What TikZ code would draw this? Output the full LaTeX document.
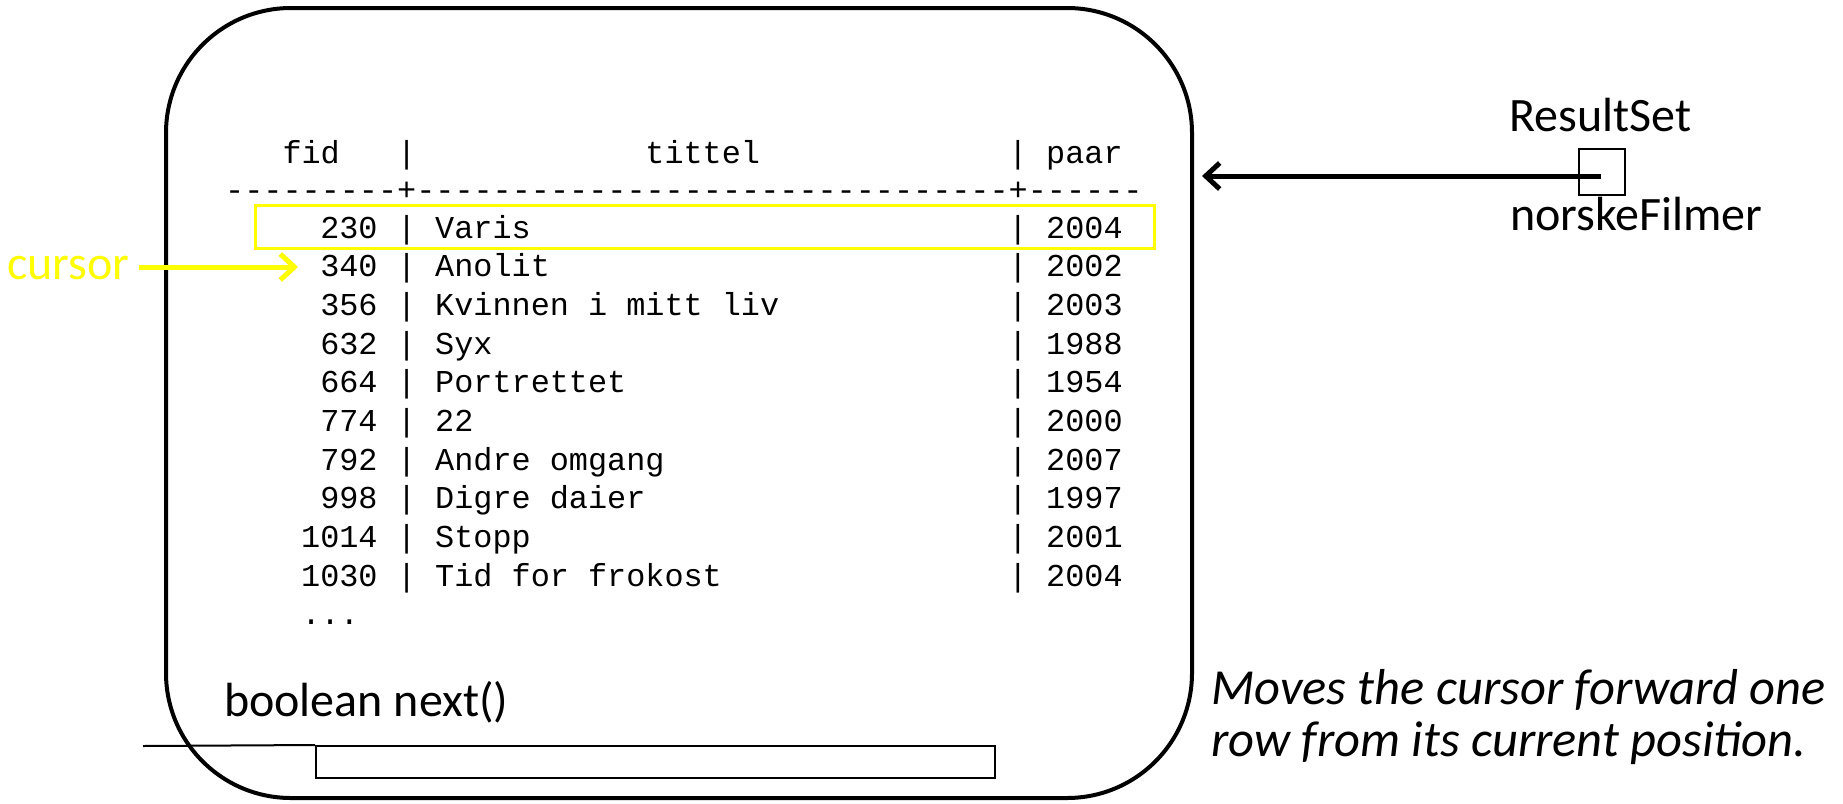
\documentclass[tikz,border=0pt]{standalone}
\usepackage{fontspec}
\setmainfont{Carlito}
\setmonofont{Liberation Mono}
\usetikzlibrary{arrows.meta}
\definecolor{hiyellow}{RGB}{255,255,0}
\begin{document}
\begin{tikzpicture}[x=1pt,y=-1pt,
  cal/.style={font=\fontsize{48pt}{56pt}\selectfont, inner sep=0pt, anchor=base west},
  ital/.style={font=\fontsize{50.5pt}{56pt}\selectfont\itshape, inner sep=0pt, anchor=base west},
  mono/.style={font=\fontsize{31.85pt}{38pt}\selectfont\ttfamily, inner sep=0pt},
  thin/.style={draw, line width=2pt, inner sep=0pt},
  barb/.style={-{Straight Barb[length=14pt,width=26pt]}, line width=5pt}]
\useasboundingbox (0,0) rectangle (1843,803);
% outer object
\node[draw, line width=4pt, rounded corners=125pt, minimum width=1026pt,
      minimum height=790pt, inner sep=0pt] (box) at (679,403) {};
% header
\node[mono, anchor=base west] (hfid) at (282.3,163) {fid};
\node[mono, anchor=base west] (hbara) at (396.9,163) {|};
\node[mono, anchor=base west] (htit) at (645.2,163) {tittel};
\node[mono, anchor=base west] (hbarb) at (1008.1,163) {|};
\node[mono, anchor=base west] (hpaar) at (1046,163) {paar};
\node[mono, anchor=base west] (sep) at (225,200) {---------+-------------------------------+------};
% rows
\foreach \r/\f/\t/\yr in {0/230/Varis/2004, 1/340/Anolit/2002,
   2/356/Kvinnen i mitt liv/2003, 3/632/Syx/1988, 4/664/Portrettet/1954,
   5/774/22/2000, 6/792/Andre omgang/2007, 7/998/Digre daier/1997,
   8/1014/Stopp/2001, 9/1030/Tid for frokost/2004} {
  \pgfmathsetmacro\rowy{238+38.67*\r}
  \node[mono, anchor=base east] (fid\r) at (377.8,\rowy) {\f};
  \node[mono, anchor=base west] (bara\r) at (396.9,\rowy) {|};
  \node[mono, anchor=base west] (tit\r) at (435,\rowy) {\t};
  \node[mono, anchor=base west] (barb\r) at (1008.1,\rowy) {|};
  \node[mono, anchor=base west] (yr\r) at (1046,\rowy) {\yr};
}
\node[mono, anchor=base west] (dots) at (301.4,624.7) {...};
% current row highlight
\node[draw=hiyellow, line width=3pt, minimum width=899pt, minimum height=43pt,
      inner sep=0pt] (cur) at (704.5,226.5) {};
% cursor label and arrow
\node[cal, text=hiyellow, outer xsep=10pt] (cursor) at (-3,279) {cursor};
\coordinate (ctip) at (298,267);
\draw[barb, hiyellow] (cursor.east |- ctip) -- (ctip);
% ResultSet reference
\node[cal] (rstitle) at (1509,131) {ResultSet};
\node[thin, minimum size=46pt] (rs) at (1602,171.5) {};
\node[cal] (rsname) at (1510,230) {norskeFilmer};
\coordinate (rsc) at (1601,176);
\coordinate (btip) at (1202,176);
\draw[barb] (rsc) -- (btip);
% method
\node[cal] (meth) at (224,716) {boolean next()};
\node[thin, minimum width=679pt, minimum height=32pt] (bar) at (655.5,762) {};
\coordinate (lstart) at (143,746);
\draw[line width=2pt] (lstart) -- (bar.north west);
% description
\node[ital] (desc1) at (1211,704) {Moves the cursor forward one};
\node[ital] (desc2) at (1211,756) {row from its current position.};
\end{tikzpicture}
\end{document}
